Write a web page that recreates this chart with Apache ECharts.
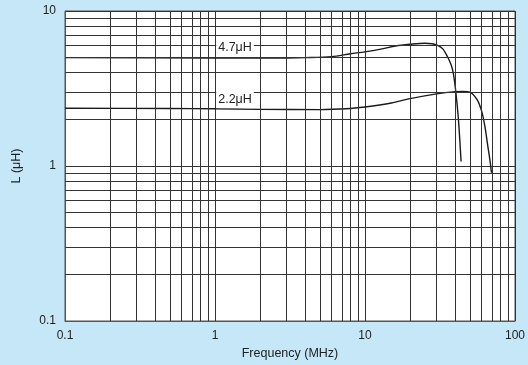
<!DOCTYPE html>
<html>
<head>
<meta charset="utf-8">
<script src="https://cdn.jsdelivr.net/npm/echarts@6/dist/echarts.min.js"></script>
<style>
  html, body { margin: 0; padding: 0; background: #c6e7f8; }
  #chart { width: 528px; height: 365px; }
</style>
</head>
<body>
<div id="chart"></div>
<script>
// 4.7uH curve
const freq47 = [0.1, 1, 3, 4, 6, 8, 10, 13, 16, 20, 25, 28, 30.5, 33, 35.5, 37.5, 38.8, 40.3, 42, 43.7]
const ind47 = [5.0, 4.98, 4.98, 5.0, 5.08, 5.3, 5.45, 5.7, 5.95, 6.1, 6.2, 6.15, 6.0, 5.7, 5.07, 4.5, 3.96, 3.02, 1.98, 1.07]

// 2.2uH curve
const freq22 = [0.1, 0.5, 1, 2, 5, 8, 10, 15, 20, 30, 40, 45, 50, 56, 60, 63, 66, 68, 69.7]
const ind22 = [2.36, 2.35, 2.34, 2.32, 2.31, 2.35, 2.4, 2.55, 2.72, 2.92, 3.02, 3.03, 3.0, 2.67, 2.25, 1.8, 1.33, 1.1, 0.905]

// minor grid positions (2..9 of each decade)
const xMinor = [0.2, 0.3, 0.4, 0.5, 0.6, 0.7, 0.8, 0.9, 2, 3, 4, 5, 6, 7, 8, 9, 20, 30, 40, 50, 60, 70, 80, 90]
const yMinor = [0.2, 0.3, 0.4, 0.5, 0.6, 0.7, 0.8, 0.9, 2, 3, 4, 5, 6, 7, 8, 9]

const labels = [
  { name: '4.7μH', at: [1.36, 5.77] },
  { name: '2.2μH', at: [1.36, 2.68] }
]

const gridColor = '#333'
const pairs = (xs, ys) => xs.map((x, i) => [x, ys[i]])

const chart = echarts.init(document.getElementById('chart'))

const labelPoint = (l) => ({
  coord: l.at,
  symbol: 'rect',
  symbolSize: 1,
  itemStyle: { color: 'rgba(0,0,0,0)' },
  label: {
    show: true,
    position: 'inside',
    formatter: l.name,
    color: '#222',
    fontSize: 12.5,
    backgroundColor: '#fff',
    padding: [2, 2, 2, 2]
  }
})

const curve = (data, l) => ({
  type: 'line',
  data,
  smooth: 0.3,
  symbol: 'none',
  z: 3,
  lineStyle: { color: '#1a1a1a', width: 1.4 },
  markPoint: { silent: true, animation: false, data: [labelPoint(l)] }
})

chart.setOption({
  animation: false,
  backgroundColor: '#c6e7f8',
  textStyle: { fontFamily: 'Liberation Sans, Arial, sans-serif' },
  grid: {
    left: 65, right: 10, top: 11, bottom: 44,
    show: true, backgroundColor: '#fff', borderColor: '#555', borderWidth: 1
  },
  xAxis: {
    type: 'log',
    logBase: 10,
    min: 0.1,
    max: 100,
    name: 'Frequency (MHz)',
    nameLocation: 'middle',
    nameGap: 26,
    nameTextStyle: { color: '#222', fontSize: 12.5 },
    axisLine: { show: true, lineStyle: { color: '#555' } },
    axisTick: { show: false },
    axisLabel: { color: '#222', fontSize: 12, margin: 9 },
    splitLine: { show: true, lineStyle: { color: gridColor, width: 1 } }
  },
  yAxis: {
    type: 'log',
    logBase: 10,
    min: 0.1,
    max: 10,
    name: 'L (μH)',
    nameLocation: 'middle',
    nameGap: 42,
    nameTextStyle: { color: '#222', fontSize: 12.5 },
    axisLine: { show: true, lineStyle: { color: '#555' } },
    axisTick: { show: false },
    axisLabel: { color: '#222', fontSize: 12, margin: 9 },
    splitLine: { show: true, lineStyle: { color: gridColor, width: 1 } }
  },
  series: [
    {
      type: 'line',
      data: [],
      z: 1,
      markLine: {
        silent: true,
        animation: false,
        symbol: 'none',
        label: { show: false },
        lineStyle: { color: gridColor, width: 1, type: 'solid' },
        data: xMinor.map(v => ({ xAxis: v })).concat(yMinor.map(v => ({ yAxis: v })))
      }
    },
    curve(pairs(freq47, ind47), labels[0]),
    curve(pairs(freq22, ind22), labels[1])
  ]
})
</script>
</body>
</html>
